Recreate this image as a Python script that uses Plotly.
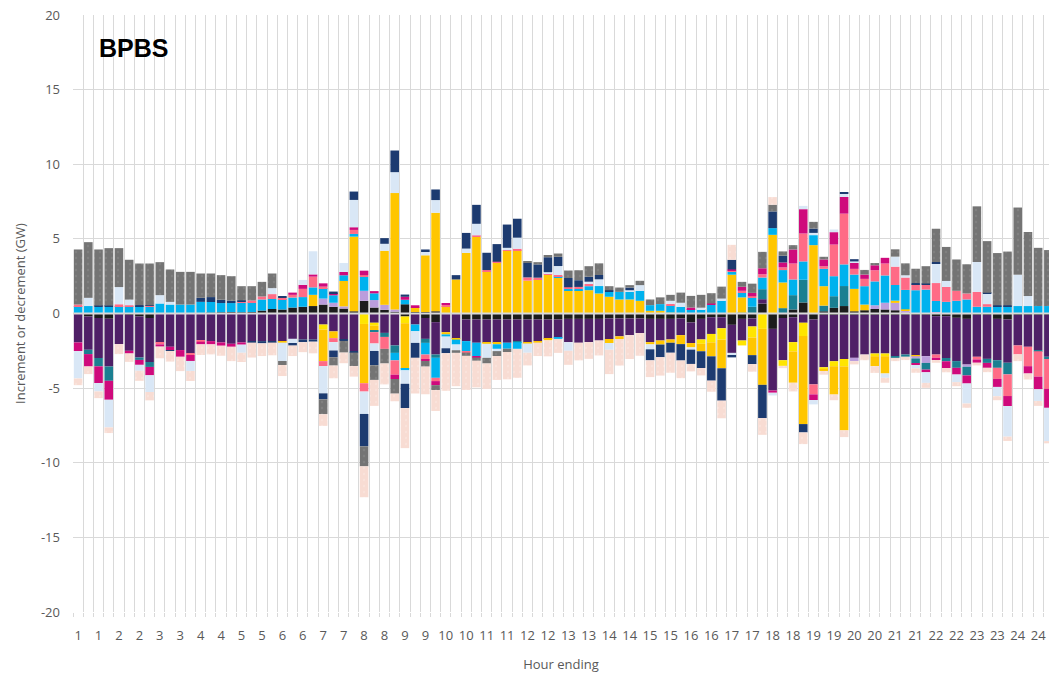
import plotly.graph_objects as go

# Quarter-hour intervals, labelled by hour ending
hour_ending = [
    1, 1, 1, 1, 2, 2, 2, 2, 3, 3, 3, 3, 4, 4, 4, 4, 5, 5, 5, 5, 6, 6, 6, 6,
    7, 7, 7, 7, 8, 8, 8, 8, 9, 9, 9, 9, 10, 10, 10, 10, 11, 11, 11, 11, 12, 12, 12, 12,
    13, 13, 13, 13, 14, 14, 14, 14, 15, 15, 15, 15, 16, 16, 16, 16, 17, 17, 17, 17, 18, 18, 18, 18,
    19, 19, 19, 19, 20, 20, 20, 20, 21, 21, 21, 21, 22, 22, 22, 22, 23, 23, 23, 23, 24, 24, 24, 24,
]

# Value axis ticks (GW) and their printed labels
y_ticks = [-20, -15, -10, -5, 0, 5, 10, 15, 20]
y_tick_labels = ["-20", "-15", "-10", "-5", "0", "5", "10", "15", "20"]

# ---- Increments (GW), one value per interval ----
up_black = [
    0, 0, 0, 0, 0, 0, 0, 0, 0, 0, 0, 0,
    0, 0.05, 0.08, 0.1, 0.08, 0.1, 0.2, 0.3, 0.27, 0.4, 0.45, 0.5,
    0.6, 0.45, 0.33, 0.15, 0.85, 0.4, 0.25, 0.12, 0.62, 0.1, 0.1, 0.15,
    0, 0, 0, 0, 0, 0, 0, 0, 0, 0, 0, 0,
    0, 0, 0, 0, 0, 0, 0, 0, 0, 0, 0, 0,
    0, 0, 0, 0, 0, 0, 0, 0.67, 0, 0, 0.27, 0.74,
    0, 0.15, 0.38, 0.5, 0.15, 0.22, 0.3, 0.27, 0.22, 0.1, 0, 0,
    0, 0, 0, 0, 0, 0, 0, 0, 0, 0, 0, 0,
]
up_purple = [
    0, 0, 0, 0, 0, 0, 0, 0, 0, 0, 0, 0,
    0, 0, 0, 0, 0, 0, 0, 0, 0, 0, 0, 0,
    0, 0, 0, 0, 0, 0, 0, 0, 0, 0, 0, 0,
    0, 0, 0, 0, 0, 0, 0, 0, 0, 0, 0, 0,
    0, 0, 0, 0, 0, 0, 0, 0, 0, 0, 0, 0,
    0, 0, 0, 0, 0, 0, 0, 0.29, 0, 0, 0, 0,
    0, 0, 0, 0, 0, 0, 0, 0, 0, 0, 0, 0,
    0, 0, 0, 0, 0, 0, 0, 0, 0, 0, 0, 0,
]
up_teal = [
    0, 0, 0, 0, 0, 0, 0, 0, 0, 0, 0, 0,
    0, 0, 0, 0, 0, 0, 0, 0, 0, 0, 0, 0,
    0, 0, 0, 0, 0, 0, 0, 0, 0, 0, 0, 0,
    0, 0, 0, 0, 0, 0, 0, 0, 0, 0, 0, 0,
    0, 0, 0, 0, 0, 0, 0, 0, 0, 0, 0, 0,
    0, 0, 0, 0, 0, 0.05, 0.45, 0.67, 0, 0.36, 0.96, 1.52,
    0, 0.38, 0.78, 1.34, 0, 0, 0, 0, 0, 0, 0, 0,
    0, 0, 0, 0, 0, 0, 0, 0, 0, 0, 0, 0,
]
up_lavender = [
    0, 0, 0, 0, 0, 0, 0, 0, 0, 0, 0, 0,
    0, 0, 0, 0, 0, 0, 0, 0, 0, 0, 0, 0,
    0.4, 0.27, 0.15, 0, 0.67, 0.5, 0.33, 0.15, 0, 0, 0, 0,
    0, 0, 0, 0, 0, 0, 0, 0, 0, 0, 0, 0,
    0, 0, 0, 0, 0, 0, 0, 0, 0, 0, 0, 0,
    0, 0, 0, 0, 0, 0, 0, 0, 0, 0, 0, 0,
    0, 0, 0, 0, 0, 0, 0.25, 0.45, 0.49, 0.1, 0, 0,
    0.1, 0, 0, 0, 0, 0, 0, 0, 0, 0, 0, 0,
]
up_yellow = [
    0, 0, 0, 0, 0, 0, 0, 0, 0, 0, 0, 0,
    0, 0, 0, 0, 0, 0, 0, 0, 0, 0, 0, 0.75,
    0, 0, 1.7, 5.0, 0, 0, 3.62, 7.8, 0, 0.33, 3.8, 6.6,
    0.5, 2.28, 4.06, 5.13, 2.84, 3.4, 4.2, 4.24, 2.2, 2.28, 2.6, 2.4,
    1.56, 1.56, 1.56, 1.34, 1.12, 0.94, 0.94, 0.85, 0.18, 0.18, 0.05, 0,
    0, 0, 0, 0, 2.6, 1.03, 0, 0, 5.27, 1.72, 0, 0,
    4.58, 1.3, 0, 0, 1.5, 0.38, 0, 0, 0.15, 0.08, 0, 0,
    0, 0, 0, 0, 0, 0, 0, 0, 0, 0, 0, 0,
]
up_cyan = [
    0.5, 0.5, 0.45, 0.45, 0.5, 0.5, 0.5, 0.45, 0.67, 0.6, 0.6, 0.6,
    0.78, 0.72, 0.62, 0.6, 0.65, 0.65, 0.74, 0.67, 0.7, 0.67, 0.65, 0.5,
    0.7, 0.5, 0.38, 0.18, 0.95, 0.45, 0, 0, 0.3, 0, 0, 0,
    0, 0, 0, 0, 0, 0, 0, 0, 0, 0, 0, 0.1,
    0.1, 0.1, 0.27, 0.5, 0.33, 0.51, 0.51, 0.67, 0.38, 0.45, 0.5, 0.45,
    0.29, 0.29, 0.58, 0.87, 0.2, 0.31, 0.6, 0.78, 0.45, 0.83, 1.05, 1.23,
    0.67, 1.16, 1.34, 1.45, 0.96, 1.23, 1.6, 1.83, 1.05, 1.3, 1.56, 1.6,
    0.74, 0.78, 0.85, 0.94, 0.45, 0.45, 0.5, 0.5, 0.5, 0.5, 0.5, 0.5,
]
up_pink = [
    0.1, 0, 0, 0, 0.12, 0.05, 0, 0.06, 0, 0, 0, 0,
    0, 0, 0, 0, 0.1, 0.12, 0.2, 0.33, 0.1, 0.18, 0.55, 0.72,
    0.1, 0, 0, 0.27, 0.1, 0, 0, 0, 0, 0, 0, 0,
    0.07, 0, 0, 0.1, 0.07, 0.07, 0.05, 0.1, 0.22, 0.12, 0.05, 0.08,
    0.1, 0.12, 0.15, 0, 0, 0, 0, 0, 0, 0, 0.1, 0,
    0, 0, 0, 0, 0.05, 0.13, 0.11, 0.22, 0, 0.18, 1.07, 1.87,
    0, 0.18, 2.12, 3.4, 0.38, 0.49, 0.75, 0.8, 1.23, 0.83, 0.4, 0.36,
    1.2, 1.0, 0.67, 0.4, 1.0, 0.18, 0, 0, 0, 0, 0, 0,
]
up_magenta = [
    0, 0, 0, 0, 0, 0, 0, 0, 0, 0, 0, 0,
    0, 0, 0, 0, 0, 0, 0, 0, 0, 0.15, 0.27, 0.15,
    0.22, 0.15, 0.22, 0.18, 0.3, 0.15, 0, 0, 0.2, 0.12, 0, 0,
    0.1, 0, 0, 0, 0, 0, 0, 0, 0, 0, 0, 0,
    0, 0, 0, 0, 0, 0, 0, 0, 0, 0, 0, 0,
    0.11, 0, 0.09, 0, 0.1, 0.27, 0.22, 0.4, 0, 0.33, 0.94, 1.63,
    0, 0.45, 0.83, 1.12, 0.4, 0.29, 0.33, 0.38, 0, 0, 0, 0,
    0, 0, 0, 0, 0, 0, 0, 0, 0, 0, 0, 0,
]
up_lightblue = [
    0, 0.55, 0, 0, 1.15, 0.38, 0, 0, 0.56, 0.18, 0, 0,
    0, 0, 0, 0, 0, 0, 0, 0.4, 0, 0, 0.33, 1.55,
    0, 0, 0.6, 1.83, 0, 0, 0.47, 1.4, 0, 0, 0.27, 0.85,
    0, 0, 0.29, 0.78, 0, 0, 0.15, 0.74, 0, 0, 0.12, 0.6,
    0, 0, 0.15, 0.45, 0, 0, 0.11, 0.38, 0, 0, 0.2, 0.27,
    0, 0.1, 0, 0.13, 0, 0, 0, 0, 0, 0, 0, 0.22,
    0.15, 0, 0.18, 0.2, 0.1, 0, 0, 0, 0.67, 0.15, 0, 0,
    1.34, 0.4, 0, 0, 2.0, 0.71, 0, 0, 2.1, 0.67, 0, 0,
]
up_navy = [
    0, 0, 0.08, 0.08, 0, 0, 0.06, 0.04, 0, 0, 0, 0,
    0.27, 0.33, 0.22, 0.15, 0.05, 0, 0, 0, 0.07, 0, 0, 0,
    0, 0.1, 0, 0.56, 0, 0, 0.38, 1.45, 0.15, 0, 0.12, 0.71,
    0, 0.29, 1.05, 1.27, 1.16, 1.18, 1.56, 1.27, 0.98, 0.89, 1.0, 0.62,
    0.62, 0.45, 0.33, 0.29, 0.11, 0, 0.18, 0, 0, 0, 0, 0,
    0, 0, 0, 0, 0.65, 0, 0, 0, 1.12, 0.45, 0, 0,
    0.29, 0, 0, 0.1, 0.15, 0, 0, 0, 0, 0, 0.08, 0.05,
    0.07, 0, 0, 0, 0, 0.05, 0.05, 0.05, 0, 0, 0, 0,
]
up_gray = [
    3.69, 3.73, 3.76, 3.85, 2.61, 2.67, 2.79, 2.8, 2.21, 2.17, 2.19, 2.19,
    1.63, 1.58, 1.65, 1.65, 0.95, 0.96, 0.98, 0.98, 0, 0, 0, 0,
    0, 0, 0, 0, 0, 0, 0, 0, 0, 0, 0, 0,
    0, 0, 0, 0, 0, 0, 0, 0, 0.07, 0.15, 0.15, 0.22,
    0.5, 0.67, 0.71, 0.78, 0.27, 0.29, 0.16, 0.29, 0.38, 0.45, 0.4, 0.68,
    0.78, 0.86, 0.69, 0.8, 0, 0.33, 0.62, 1.1, 0.45, 0.29, 0.29, 0,
    0.45, 0.18, 0, 0, 0, 0.31, 0.15, 0, 0.49, 0.8, 0.96, 1.16,
    2.23, 2.28, 2.1, 1.96, 3.73, 3.46, 3.5, 3.6, 4.5, 4.29, 3.9, 3.75,
]
up_peach = [
    0, 0, 0, 0, 0, 0, 0, 0, 0, 0, 0, 0,
    0, 0, 0, 0, 0, 0, 0, 0, 0, 0, 0, 0,
    0, 0, 0, 0, 0, 0, 0, 0, 0, 0, 0, 0,
    0, 0, 0, 0, 0, 0, 0, 0, 0, 0, 0, 0,
    0, 0, 0, 0, 0, 0, 0, 0, 0, 0, 0, 0,
    0, 0, 0, 0, 1.0, 0, 0, 0, 0.51, 0, 0, 0,
    0, 0, 0, 0, 0, 0, 0, 0, 0, 0, 0, 0,
    0, 0, 0, 0, 0, 0, 0, 0, 0, 0, 0, 0,
]

# ---- Decrements (GW), one value per interval ----
dn_black = [
    0, -0.2, -0.3, -0.35, -0.05, -0.1, -0.2, -0.3, 0, 0, 0, 0,
    0, 0, 0, 0, 0, 0, 0, 0, 0, 0, 0, 0,
    0, 0, 0, 0, 0, 0, 0, 0, -0.2, 0, -0.3, -0.58,
    0, 0, -0.4, -0.4, -0.4, -0.4, -0.4, -0.4, -0.4, -0.4, -0.4, -0.4,
    -0.36, -0.36, -0.36, -0.36, -0.33, -0.33, -0.33, -0.33, -0.36, -0.36, -0.36, -0.33,
    -0.6, -0.36, -0.25, -0.25, -0.76, -0.36, -0.33, 0, -1.03, -0.3, -0.25, 0,
    -0.4, -0.1, -0.1, -0.1, -0.1, -0.1, -0.1, -0.1, -0.1, -0.1, -0.1, -0.1,
    -0.18, -0.18, -0.29, -0.36, -0.1, -0.1, -0.36, -0.4, -0.1, -0.1, -0.1, -0.1,
]
dn_purple = [
    -1.94, -2.23, -2.68, -3.2, -2.0, -2.4, -2.75, -2.95, -1.94, -2.23, -2.45, -2.68,
    -1.79, -1.85, -1.94, -2.03, -1.94, -1.85, -1.85, -1.85, -1.85, -1.7, -1.74, -1.74,
    -0.74, -1.2, -1.74, -2.52, 0, -0.62, -1.3, -2.14, 0, -0.74, -1.4, -2.17,
    -1.25, -1.7, -1.45, -1.56, -1.56, -1.56, -1.56, -1.45, -1.56, -1.45, -1.3, -1.23,
    -1.56, -1.6, -1.56, -1.45, -1.38, -1.2, -1.12, -0.98, -1.56, -1.45, -1.38, -1.12,
    -1.38, -1.38, -1.12, -0.74, -1.88, -1.45, -0.54, 0, -4.13, -2.83, -1.67, -0.62,
    -4.35, -3.5, -3.1, -2.95, -2.87, -2.65, -2.58, -2.58, -2.76, -2.65, -2.71, -2.76,
    -2.57, -2.8, -2.9, -3.06, -2.8, -2.94, -2.77, -2.9, -2.04, -2.13, -2.36, -2.8,
]
dn_brightyellow = [
    0, 0, 0, 0, 0, 0, 0, 0, 0, 0, 0, 0,
    0, 0, 0, 0, 0, 0, 0, 0, 0, 0, 0, 0,
    -0.33, 0, 0, 0, -0.7, -0.2, 0, 0, -0.45, 0, 0, 0,
    0, 0, 0, 0, 0, 0, 0, 0, 0, 0, 0, 0,
    0, 0, 0, 0, 0, 0, 0, 0, 0, 0, 0, 0,
    0, -0.29, -0.56, -0.76, 0, -0.33, -0.74, -1.03, 0, -0.38, -0.62, -0.89,
    0, -0.15, -0.33, -0.49, 0, 0, -0.18, -0.18, 0, 0, 0, 0,
    0, 0, 0, 0, 0, 0, 0, 0, 0, 0, 0, 0,
]
dn_yellow = [
    0, 0, 0, 0, 0, 0, 0, 0, 0, 0, 0, 0,
    0, 0, 0, 0, 0, 0, 0, 0, -0.1, 0, 0, 0,
    -2.12, -0.45, 0, 0, -3.97, -0.3, 0, 0, -3.06, 0, 0, 0,
    -0.15, -0.05, 0, 0, -0.07, -0.1, 0, 0, -0.05, -0.1, -0.1, 0,
    0, 0, 0, 0, -0.27, -0.18, 0, 0, -0.15, -0.27, -0.22, -0.6,
    -0.29, -0.5, -0.94, -1.92, 0, 0, -1.18, -3.75, 0, 0, -2.1, -5.9,
    0, -0.1, -1.9, -4.29, 0, 0, -0.67, -1.16, 0, 0, -0.05, 0,
    0, 0, 0, 0, 0, 0, 0, 0, 0, 0, 0, 0,
]
dn_lavender = [
    0, 0, 0, 0, 0, 0, 0, 0, 0, 0, 0, 0,
    0, 0, 0, 0, 0, 0, 0, 0, 0, 0, 0, 0,
    0, 0, 0, 0, 0, 0, 0, 0, 0, 0, 0, 0,
    0, 0, 0, 0, 0, 0, 0, 0, 0, 0, 0, 0,
    0, 0, 0, 0, 0, 0, 0, 0, 0, 0, 0, 0,
    0, 0, 0, 0, 0, 0, 0, 0, 0, 0, 0, 0,
    0, 0, 0, 0, -0.22, 0, 0, 0, 0, 0, -0.15, -0.45,
    0, 0, 0, -0.15, 0, 0, 0, 0, 0, 0, 0, 0,
]
dn_teal = [
    0, -0.29, -0.56, -0.96, 0, 0, -0.16, -0.33, 0, 0, 0, 0,
    0, 0, 0, 0, 0, 0, 0, 0, 0, 0, 0, 0,
    0, 0, 0, 0, 0, -0.13, -0.27, -0.5, 0, 0, -0.27, -0.22,
    0, 0, 0, 0, 0, 0, 0, -0.07, 0, 0, 0, 0,
    0, 0, 0, 0, 0, 0, 0, 0, 0, 0, 0, 0,
    0, 0, 0, 0, 0, 0, 0, 0, 0, 0, 0, 0,
    0, 0, 0, 0, 0, 0, 0, 0, -0.11, -0.15, -0.33, -0.45,
    0, -0.22, -0.45, -0.58, 0, -0.27, -0.51, -0.78, 0, 0, -0.07, -0.15,
]
dn_cyan = [
    0, 0, 0, 0, 0, 0, 0, 0, 0, 0, 0, 0,
    0, 0, 0, 0, 0, 0, 0, 0, 0, 0, 0, 0,
    0, 0, 0, 0, 0, 0, 0, -0.5, -0.1, -0.45, -0.78, -1.34,
    -0.15, -0.33, -0.67, -0.89, 0, -0.31, -0.4, -0.45, 0, 0, 0, -0.07,
    0, 0, 0, 0, 0, 0, 0, 0, 0, 0, 0, 0,
    0, 0, 0, 0, 0, 0, 0, 0, 0, 0, 0, 0,
    0, 0, 0, 0, 0, 0, 0, 0, 0, 0, 0, 0,
    0, 0, 0, 0, 0, 0, 0, 0, 0, 0, 0, 0,
]
dn_pink = [
    0, 0, 0, 0, 0, 0, 0, 0, -0.13, 0, 0, -0.1,
    -0.1, 0, 0, 0, 0, 0, 0, 0, 0, 0, 0, 0,
    -0.33, -0.27, 0, 0, -0.56, -0.76, -0.8, -0.96, 0, 0, -0.33, -0.22,
    0, 0, -0.1, 0, 0, 0, 0, 0, 0, 0, 0, 0,
    0, 0, 0, 0, 0, 0, 0, 0, 0, 0, 0, 0,
    0, 0, 0, 0, 0, 0, 0, 0, 0, 0, 0, 0,
    -0.67, 0, 0, 0, 0, 0, 0, 0, 0, 0, 0, 0,
    -0.22, 0, 0, 0, -0.18, 0, -0.74, -1.45, -0.6, -1.3, -1.7, -2.0,
]
dn_magenta = [
    -0.58, -0.83, -1.12, -1.27, 0, -0.18, -0.33, -0.56, -0.15, -0.22, -0.45, -0.4,
    -0.18, -0.22, -0.22, -0.2, -0.15, 0, 0, 0, 0, 0, 0, 0,
    0, 0, 0, 0, 0, 0, 0, -0.29, 0, 0, -0.1, -0.27,
    0, 0, 0, -0.1, 0, 0, 0, 0, 0, 0, 0, 0,
    0, 0, 0, 0, 0, 0, 0, 0, 0, 0, 0, 0,
    0, 0, 0, 0, 0, 0, 0, 0, -0.15, 0, 0, 0,
    -0.38, 0, 0, 0, 0, 0, 0, 0, 0, 0, -0.11, -0.18,
    -0.15, -0.45, -0.45, -0.54, -0.22, -0.33, -0.54, -0.67, 0, -0.49, -0.85, -1.27,
]
dn_lightblue = [
    -1.83, 0, -0.56, -1.85, 0, 0, -0.4, -1.12, 0, 0, 0, -0.67,
    0, 0, 0, 0, -0.54, 0, 0, 0, -1.23, -0.33, 0, 0,
    -1.83, -0.56, 0, 0, -1.5, -0.5, 0, 0, -0.9, -0.78, 0, 0,
    -0.78, -0.38, 0, 0, -0.94, -0.15, 0, 0, -0.62, 0, 0, 0,
    -0.58, 0, 0, 0, -0.45, 0, 0, 0, -0.33, 0, 0, 0,
    -0.15, 0, 0, 0, -0.18, 0, 0, 0, -0.18, 0, 0, 0,
    -0.29, 0, 0, 0, 0, 0, 0, -0.29, 0, 0, -0.22, -0.71,
    0, 0, -0.51, -1.34, 0, 0, -0.62, -2.05, 0, 0, -0.78, -2.23,
]
dn_navy = [
    0, 0, 0, 0, 0, 0, 0, 0, 0, -0.06, 0, 0,
    0, 0, 0, 0, 0, -0.1, -0.15, -0.1, 0, -0.12, -0.18, -0.15,
    -0.4, -0.45, -0.1, -0.1, -2.17, -0.96, 0, 0, -1.63, -1.0, 0, 0,
    -0.33, 0, 0, 0, 0, 0, 0, 0, 0, 0, 0, 0,
    0, 0, 0, 0, 0, 0, 0, 0, -0.74, -0.85, -0.67, -1.1,
    -0.96, -1.12, -1.63, -2.17, -0.12, 0, -0.6, -2.23, 0, 0, 0, -0.56,
    0, 0, 0, 0, 0, 0, 0, 0, 0, 0, 0, 0,
    0, 0, 0, 0, 0, 0, 0, 0, 0, 0, 0, 0,
]
dn_gray = [
    0, 0, 0, 0, 0, 0, 0, 0, 0, 0, 0, 0,
    0, 0, 0, 0, 0, 0, 0, 0, -0.27, 0, 0, 0,
    -1.0, -0.56, -0.78, -0.9, -1.34, -0.98, -0.98, -0.98, 0, 0, -0.38, -0.33,
    0, -0.18, -0.22, -0.22, -0.38, -0.33, -0.22, 0, 0, 0, 0, 0,
    0, 0, 0, 0, 0, 0, 0, 0, 0, 0, 0, 0,
    0, 0, 0, 0, 0, 0, 0, 0, 0, 0, 0, 0,
    0, 0, 0, 0, 0, 0, 0, 0, 0, 0, 0, 0,
    0, 0, 0, 0, 0, 0, 0, 0, 0, 0, 0, 0,
]
dn_peach = [
    -0.45, -0.51, -0.45, -0.38, -0.67, -0.56, -0.67, -0.56, -0.78, -0.71, -0.96, -0.67,
    -0.71, -0.67, -0.67, -0.96, -0.62, -1.0, -0.85, -0.85, -0.74, -0.7, -0.67, -0.78,
    -0.78, -0.85, -0.71, -0.71, -2.07, -1.74, -1.4, -0.51, -2.68, -2.39, -1.85, -1.4,
    -2.52, -2.23, -2.28, -1.78, -1.7, -1.6, -1.83, -1.94, -0.85, -0.9, -1.07, -0.94,
    -0.94, -1.18, -1.12, -1.0, -1.63, -1.78, -1.6, -1.52, -1.12, -1.23, -1.34, -1.18,
    -0.5, -0.5, -0.74, -1.18, 0, 0, -0.51, -1.12, 0, -0.15, -0.58, -0.78,
    0, -0.25, -0.38, -0.45, -0.22, -0.38, -0.45, -0.33, -0.22, -0.22, -0.3, -0.33,
    -0.18, -0.29, -0.27, -0.29, -0.18, -0.29, -0.27, -0.29, -0.45, -0.4, -0.33, -0.15,
]

# Colours per resource group
C_BLACK = "#1c1c1c"
C_PURPLE = "#4f2067"
C_TEAL = "#1b7f91"
C_LAVENDER = "#bb9ddc"
C_YELLOW = "#ffc600"
C_BRIGHTYELLOW = "#ffe500"
C_CYAN = "#00b2ee"
C_PINK = "#ff6b86"
C_MAGENTA = "#cf0a7c"
C_LIGHTBLUE = "#d9e7f6"
C_NAVY = "#1d3b70"
C_GRAY = "#747474"
C_PEACH = "#f8dcd3"

# Light speckle used on the grey and peach fills
speckle = {
    C_GRAY: dict(shape=".", fgcolor="#8c8c8c", size=6, solidity=0.12),
    C_PEACH: dict(shape=".", fgcolor="#fbe9e3", size=6, solidity=0.12),
}

x_idx = list(range(len(hour_ending)))

increments = [
    (up_black, C_BLACK), (up_purple, C_PURPLE), (up_teal, C_TEAL),
    (up_lavender, C_LAVENDER), (up_yellow, C_YELLOW), (up_cyan, C_CYAN),
    (up_pink, C_PINK), (up_magenta, C_MAGENTA), (up_lightblue, C_LIGHTBLUE),
    (up_navy, C_NAVY), (up_gray, C_GRAY), (up_peach, C_PEACH),
]
decrements = [
    (dn_black, C_BLACK), (dn_purple, C_PURPLE), (dn_brightyellow, C_BRIGHTYELLOW),
    (dn_yellow, C_YELLOW), (dn_lavender, C_LAVENDER), (dn_teal, C_TEAL),
    (dn_cyan, C_CYAN), (dn_pink, C_PINK), (dn_magenta, C_MAGENTA),
    (dn_lightblue, C_LIGHTBLUE), (dn_navy, C_NAVY), (dn_gray, C_GRAY),
    (dn_peach, C_PEACH),
]

fig = go.Figure()
for values, color in increments + decrements:
    marker = dict(color=color, line=dict(width=0))
    if color in speckle:
        marker["pattern"] = speckle[color]
    fig.add_trace(go.Bar(x=x_idx, y=values, marker=marker,
                         showlegend=False, hoverinfo="skip"))

AXIS_GREY = "#595959"
GRID = "#d9d9d9"
FONT = "Open Sans, Liberation Sans, Arial, sans-serif"

fig.update_layout(
    width=1049, height=677,
    margin=dict(l=73, r=0, t=15, b=65),
    paper_bgcolor="white", plot_bgcolor="white",
    barmode="relative", bargap=0.16,
    font=dict(family=FONT, size=13, color=AXIS_GREY),
    xaxis=dict(
        range=[-0.5, 95.06],
        tickmode="array",
        tickvals=x_idx[::2],
        ticktext=[str(h) for h in hour_ending[::2]],
        showgrid=False, zeroline=False, showline=False,
        ticks="", ticklabelstandoff=14,
        tickfont=dict(size=13, color=AXIS_GREY),
        minor=dict(tick0=-0.5, dtick=1, showgrid=True, gridcolor=GRID,
                   gridwidth=1, ticks="outside", ticklen=4, tickcolor=GRID),
        title=dict(text="Hour ending", font=dict(size=13, color=AXIS_GREY), standoff=16),
    ),
    yaxis=dict(
        range=[-20, 20],
        tickmode="array", tickvals=y_ticks, ticktext=y_tick_labels,
        showgrid=True, gridcolor=GRID, gridwidth=1,
        zeroline=False, showline=False, ticks="",
        ticklabelstandoff=12,
        tickfont=dict(size=13, color=AXIS_GREY),
        title=dict(text="Increment or decrement (GW)", font=dict(size=13, color=AXIS_GREY),
                   standoff=12),
    ),
)

# Category axis line across zero, drawn over the bars
fig.add_shape(type="line", xref="paper", yref="y", x0=0, x1=1, y0=0, y1=0,
              line=dict(color=GRID, width=2), layer="above")

fig.add_annotation(text="<b>BPBS</b>", xref="paper", yref="paper",
                   x=0.025, y=0.945, xanchor="left", yanchor="middle",
                   showarrow=False,
                   font=dict(family="Liberation Sans, Arial, sans-serif", size=25, color="#000000"))

fig.write_html("out.html")
